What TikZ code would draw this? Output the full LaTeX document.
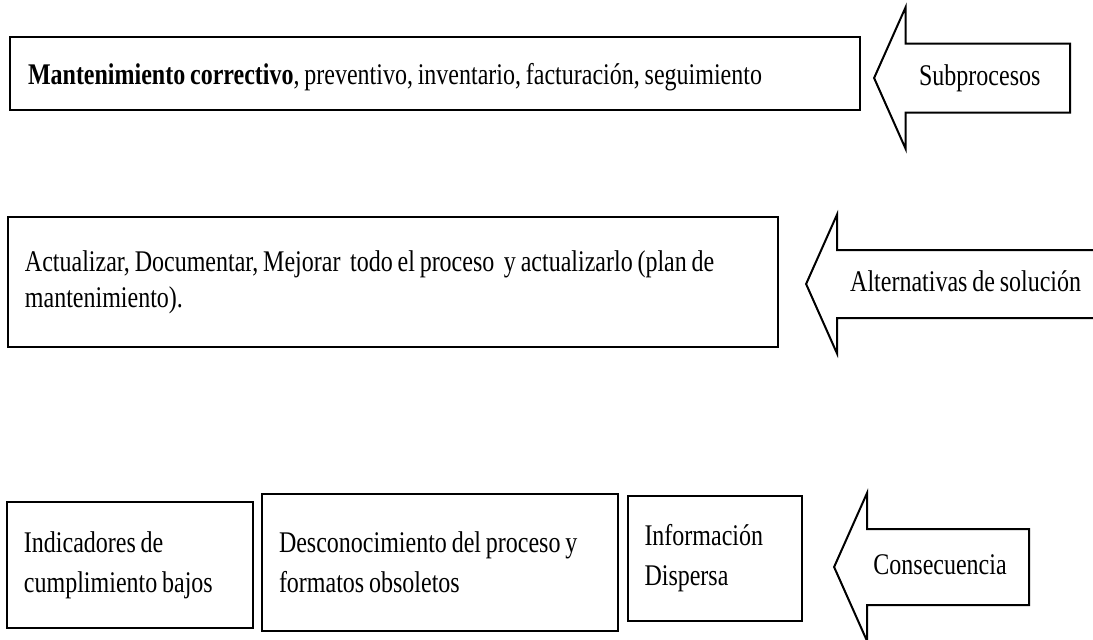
\documentclass[tikz,border=0pt]{standalone}
\usepackage{fontspec}
\setmainfont{Liberation Serif}[FakeStretch=0.8, WordSpace=0.8]
\usetikzlibrary{shapes,arrows}
\tikzstyle{block} = [rectangle, draw, line width=1pt, inner xsep=8.5pt,
    inner ysep=0pt, align=flush left, font=\fontsize{15}{20}\selectfont]
\tikzstyle{tag} = [single arrow, shape border rotate=180, draw, line width=1pt,
    single arrow tip angle=132, inner xsep=2pt, text height=10pt, text depth=3pt,
    anchor=tip, font=\fontsize{15}{18}\selectfont]

\begin{document}
\begin{tikzpicture}[x=0.5pt, y=-0.5pt]
    \path [use as bounding box, fill=white] (0,0) rectangle (1093,639);
    \clip (0,0) rectangle (1093,639);
    % Place nodes
    \node [block, text width=407pt, minimum height=36.5pt, inner xsep=9pt, text height=14pt, text depth=3pt] (sub) at (435,73.5)
        {\textbf{Mantenimiento correctivo}, preventivo, inventario, facturación, seguimiento};
    \node [block, text width=368pt, minimum height=65pt, font=\fontsize{15}{18}\selectfont] (alt) at (393,282)
        {Actualizar, Documentar, Mejorar~ todo el proceso~ y actualizarlo (plan de\\mantenimiento).};
    \node [block, text width=106pt, minimum height=63pt] (ind) at (130,565)
        {Indicadores de\\cumplimiento bajos};
    \node [block, text width=161pt, minimum height=68.5pt] (des) at (440,562.5)
        {Desconocimiento del proceso y\\formatos obsoletos};
    \node [block, text width=70pt, minimum height=62.5pt] (inf) at (714.5,558)
        {Información\\Dispersa};
    % Place arrows
    \node [tag, inner ysep=10.25pt, single arrow head extend=18.25pt, minimum height=98pt] (subArrow) at (873,78) {Subprocesos};
    \node [tag, inner ysep=10pt, single arrow head extend=17.75pt, minimum height=152pt] (altArrow) at (805,284) {Alternativas de solución};
    \node [tag, inner ysep=12pt, single arrow head extend=18pt, minimum height=97.5pt] (conArrow) at (833,567) {Consecuencia};
\end{tikzpicture}
\end{document}
